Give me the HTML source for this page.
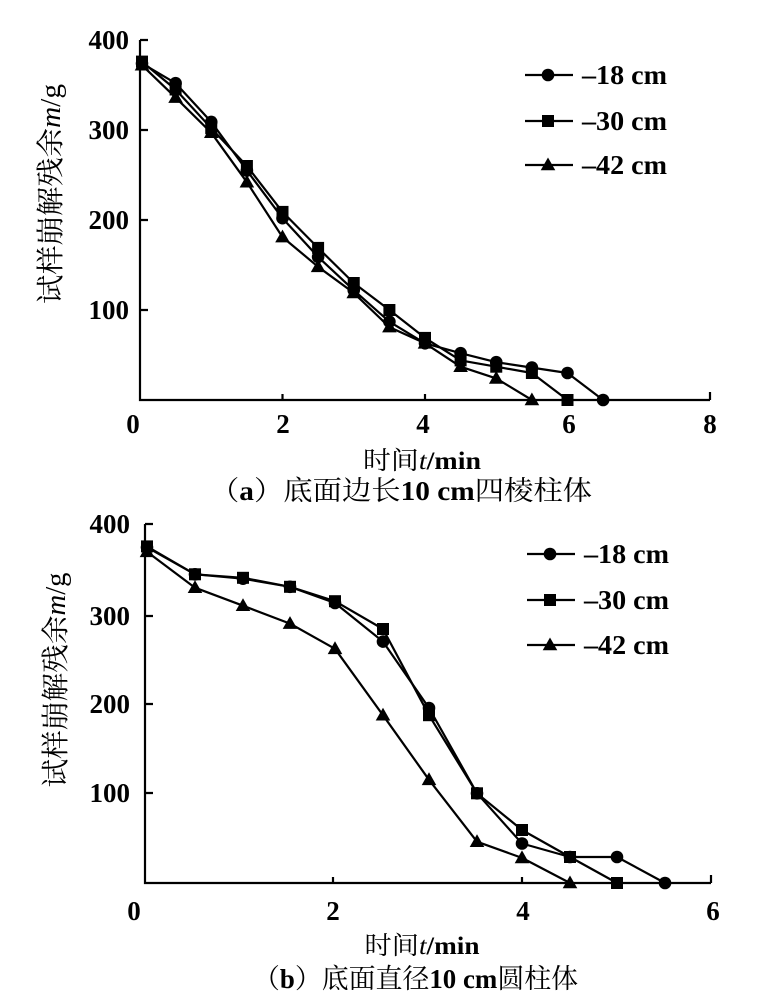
<!DOCTYPE html>
<html>
<head>
<meta charset="utf-8">
<style>
  html, body { margin: 0; padding: 0; background: #fff; }
  svg { display: block; }
  .tick { font-family: "Liberation Serif", serif; font-weight: bold; font-size: 27px; fill: #000; }
  .leg { font-family: "Liberation Serif", serif; font-weight: bold; font-size: 27px; fill: #000; }
  .cn { font-family: "Liberation Serif", "Noto Serif CJK SC", serif; fill: #000; }
  .ln { fill: none; stroke: #000; stroke-width: 2.2; stroke-linejoin: round; }
  .ax { fill: none; stroke: #000; stroke-width: 2.2; }
</style>
</head>
<body>
<svg width="765" height="1007" viewBox="0 0 765 1007" xmlns="http://www.w3.org/2000/svg">
  <defs>
    <circle id="c" r="6.3" fill="#000"/>
    <rect id="s" x="-6" y="-6" width="12" height="12" fill="#000"/>
    <path id="t" d="M0,-7.5 L7.3,5.3 L-7.3,5.3 Z" fill="#000"/>
  </defs>
  <rect width="765" height="1007" fill="#fff"/>

  <!-- ================= Chart (a) ================= -->
  <path class="ax" d="M140,40 V400 H710"/>
  <path class="ax" d="M140,40 h8 M140,130 h8 M140,220 h8 M140,310 h8 M282.5,400 v-6 M425,400 v-6 M567.5,400 v-6 M710,400 v-8"/>
  <g class="tick" text-anchor="end">
    <text x="129" y="49">400</text>
    <text x="129" y="139">300</text>
    <text x="129" y="229">200</text>
    <text x="129" y="319">100</text>
  </g>
  <g class="tick" text-anchor="middle">
    <text x="133" y="433">0</text>
    <text x="283" y="433">2</text>
    <text x="423" y="433">4</text>
    <text x="569" y="433">6</text>
    <text x="710" y="433">8</text>
  </g>

  <!-- series lines (a) -->
  <polyline class="ln" points="142,63.4 175.6,83.2 211.25,121.9 246.9,170.5 282.5,218.2 318.1,256.9 353.75,290.2 389.4,321.7 425,343.3 460.6,353.2 496.25,362.2 531.9,367.6 567.5,373 603.1,400"/>
  <polyline class="ln" points="142,61.6 175.6,89.5 211.25,128.2 246.9,166 282.5,211.9 318.1,247.9 353.75,283 389.4,310 425,337.9 460.6,360.4 496.25,366.7 531.9,373 567.5,400"/>
  <polyline class="ln" points="142,65.2 175.6,97.6 211.25,132.7 246.9,182.2 282.5,237.1 318.1,266.8 353.75,292.9 389.4,327.1 425,343.3 460.6,366.7 496.25,378.4 531.9,400"/>

  <!-- circles (a) -->
  <use href="#c" x="142" y="63.4"/><use href="#c" x="175.6" y="83.2"/><use href="#c" x="211.25" y="121.9"/>
  <use href="#c" x="246.9" y="170.5"/><use href="#c" x="282.5" y="218.2"/><use href="#c" x="318.1" y="256.9"/>
  <use href="#c" x="353.75" y="290.2"/><use href="#c" x="389.4" y="321.7"/><use href="#c" x="425" y="343.3"/>
  <use href="#c" x="460.6" y="353.2"/><use href="#c" x="496.25" y="362.2"/><use href="#c" x="531.9" y="367.6"/>
  <use href="#c" x="567.5" y="373"/><use href="#c" x="603.1" y="400"/>
  <!-- squares (a) -->
  <use href="#s" x="142" y="61.6"/><use href="#s" x="175.6" y="89.5"/><use href="#s" x="211.25" y="128.2"/>
  <use href="#s" x="246.9" y="166"/><use href="#s" x="282.5" y="211.9"/><use href="#s" x="318.1" y="247.9"/>
  <use href="#s" x="353.75" y="283"/><use href="#s" x="389.4" y="310"/><use href="#s" x="425" y="337.9"/>
  <use href="#s" x="460.6" y="360.4"/><use href="#s" x="496.25" y="366.7"/><use href="#s" x="531.9" y="373"/>
  <use href="#s" x="567.5" y="400"/>
  <!-- triangles (a) -->
  <use href="#t" x="142" y="65.2"/><use href="#t" x="175.6" y="97.6"/><use href="#t" x="211.25" y="132.7"/>
  <use href="#t" x="246.9" y="182.2"/><use href="#t" x="282.5" y="237.1"/><use href="#t" x="318.1" y="266.8"/>
  <use href="#t" x="353.75" y="292.9"/><use href="#t" x="389.4" y="327.1"/><use href="#t" x="425" y="343.3"/>
  <use href="#t" x="460.6" y="366.7"/><use href="#t" x="496.25" y="378.4"/><use href="#t" x="531.9" y="400"/>

  <!-- legend (a) -->
  <path class="ln" d="M525,75 H573 M525,121 H573 M525,165 H573"/>
  <use href="#c" x="548" y="75"/>
  <use href="#s" x="548" y="121"/>
  <use href="#t" x="548" y="165"/>
  <text class="leg" x="582" y="84" textLength="85" lengthAdjust="spacingAndGlyphs">–18 cm</text>
  <text class="leg" x="582" y="130" textLength="85" lengthAdjust="spacingAndGlyphs">–30 cm</text>
  <text class="leg" x="582" y="174" textLength="85" lengthAdjust="spacingAndGlyphs">–42 cm</text>

  <!-- axis titles (a) -->
  <text class="cn" transform="translate(60,194) rotate(-90)" text-anchor="middle" font-size="28" textLength="220" lengthAdjust="spacingAndGlyphs">试样崩解残余<tspan font-style="italic">m</tspan>/g</text>
  <text class="cn" x="422" y="469" text-anchor="middle" font-size="25" textLength="118" lengthAdjust="spacingAndGlyphs">时间<tspan font-style="italic">t</tspan><tspan font-weight="bold">/min</tspan></text>
  <text class="cn" x="401" y="500" text-anchor="middle" font-size="27" textLength="382" lengthAdjust="spacingAndGlyphs">（<tspan font-weight="bold">a</tspan>）底面边长<tspan font-weight="bold">10 cm</tspan>四棱柱体</text>

  <!-- ================= Chart (b) ================= -->
  <path class="ax" d="M145,524 V883 H711"/>
  <path class="ax" d="M145,524 h8 M145,616 h8 M145,704 h8 M145,793 h8 M333,883 v-6 M522,883 v-6 M711,883 v-8"/>
  <g class="tick" text-anchor="end">
    <text x="130" y="533">400</text>
    <text x="130" y="625">300</text>
    <text x="130" y="713">200</text>
    <text x="130" y="802">100</text>
  </g>
  <g class="tick" text-anchor="middle">
    <text x="134" y="920">0</text>
    <text x="333" y="920">2</text>
    <text x="523" y="920">4</text>
    <text x="713" y="920">6</text>
  </g>

  <!-- series lines (b) -->
  <polyline class="ln" points="147,547.3 195,574.3 243,578.7 290,586.8 335,603 383,641.6 429,708 477,793.3 522,843.5 570,857 617,857 665,883"/>
  <polyline class="ln" points="147,546.4 195,574.3 243,577.8 290,586.8 335,601.2 383,629 429,715.2 477,793.3 522,830 570,857 617,883"/>
  <polyline class="ln" points="147,551.8 195,587.7 243,605.7 290,623.6 335,648.8 383,715.2 429,779.8 477,841.7 522,857.9 570,883"/>

  <!-- circles (b) -->
  <use href="#c" x="147" y="547.3"/><use href="#c" x="195" y="574.3"/><use href="#c" x="243" y="578.7"/>
  <use href="#c" x="290" y="586.8"/><use href="#c" x="335" y="603"/><use href="#c" x="383" y="641.6"/>
  <use href="#c" x="429" y="708"/><use href="#c" x="477" y="793.3"/><use href="#c" x="522" y="843.5"/>
  <use href="#c" x="570" y="857"/><use href="#c" x="617" y="857"/><use href="#c" x="665" y="883"/>
  <!-- squares (b) -->
  <use href="#s" x="147" y="546.4"/><use href="#s" x="195" y="574.3"/><use href="#s" x="243" y="577.8"/>
  <use href="#s" x="290" y="586.8"/><use href="#s" x="335" y="601.2"/><use href="#s" x="383" y="629"/>
  <use href="#s" x="429" y="715.2"/><use href="#s" x="477" y="793.3"/><use href="#s" x="522" y="830"/>
  <use href="#s" x="570" y="857"/><use href="#s" x="617" y="883"/>
  <!-- triangles (b) -->
  <use href="#t" x="147" y="551.8"/><use href="#t" x="195" y="587.7"/><use href="#t" x="243" y="605.7"/>
  <use href="#t" x="290" y="623.6"/><use href="#t" x="335" y="648.8"/><use href="#t" x="383" y="715.2"/>
  <use href="#t" x="429" y="779.8"/><use href="#t" x="477" y="841.7"/><use href="#t" x="522" y="857.9"/>
  <use href="#t" x="570" y="883"/>

  <!-- legend (b) -->
  <path class="ln" d="M527,554 H575 M527,600 H575 M527,645 H575"/>
  <use href="#c" x="550" y="554"/>
  <use href="#s" x="550" y="600"/>
  <use href="#t" x="550" y="645"/>
  <text class="leg" x="584" y="563" textLength="85" lengthAdjust="spacingAndGlyphs">–18 cm</text>
  <text class="leg" x="584" y="609" textLength="85" lengthAdjust="spacingAndGlyphs">–30 cm</text>
  <text class="leg" x="584" y="654" textLength="85" lengthAdjust="spacingAndGlyphs">–42 cm</text>

  <!-- axis titles (b) -->
  <text class="cn" transform="translate(65,680) rotate(-90)" text-anchor="middle" font-size="28" textLength="215" lengthAdjust="spacingAndGlyphs">试样崩解残余<tspan font-style="italic">m</tspan>/g</text>
  <text class="cn" x="422" y="954" text-anchor="middle" font-size="25" textLength="115" lengthAdjust="spacingAndGlyphs">时间<tspan font-style="italic">t</tspan><tspan font-weight="bold">/min</tspan></text>
  <text class="cn" x="415.5" y="988" text-anchor="middle" font-size="27" textLength="325" lengthAdjust="spacingAndGlyphs">（<tspan font-weight="bold">b</tspan>）底面直径<tspan font-weight="bold">10 cm</tspan>圆柱体</text>
</svg>
</body>
</html>
